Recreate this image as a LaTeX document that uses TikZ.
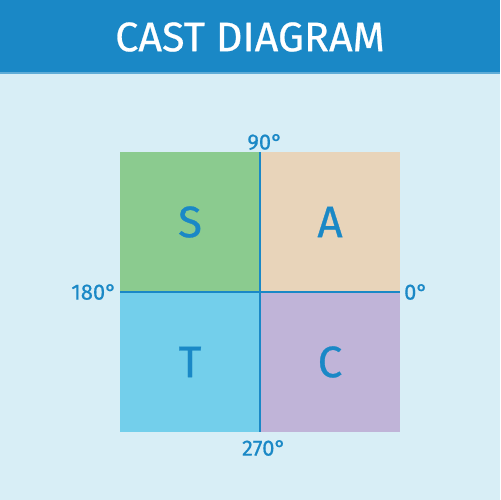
\documentclass[tikz,border=0pt]{standalone}
\usepackage{fontspec}
\setmainfont{Fira Sans}[FakeBold=0.6]
\definecolor{bgc}{HTML}{D8EEF6}
\definecolor{hdr}{HTML}{1A88C6}
\definecolor{txt}{HTML}{1A88C6}
\definecolor{qs}{HTML}{8BCB8F}
\definecolor{qa}{HTML}{E8D4BA}
\definecolor{qt}{HTML}{73CFEB}
\definecolor{qc}{HTML}{C0B4D8}
\tikzset{
  quad/.style={draw=none, minimum width=2.8cm, minimum height=2.8cm, inner sep=0pt,
    text=txt, font=\fontsize{25}{25}\selectfont},
  deg/.style={text=txt, font=\fontsize{12.5}{12.5}\selectfont, inner sep=0pt},
  axis/.style={draw=hdr, line width=1.3pt}
}
\begin{document}
\begin{tikzpicture}[x=0.02cm, y=-0.02cm]
\fill[bgc] (0,0) rectangle (500,500);
\useasboundingbox (0,0) rectangle (500,500);
\fill[hdr] (0,0) rectangle (500,72);
\fill[hdr!70!white] (0,72) rectangle (500,74);
\node[text=white, font=\fontsize{23.5}{23.5}\selectfont] (title) at (250,37) {CAST DIAGRAM};
\node[quad, fill=qs] (S) at (190,222) {S};
\node[quad, fill=qa] (A) at (330,222) {A};
\node[quad, fill=qt] (T) at (190,362) {T};
\node[quad, fill=qc] (C) at (330,362) {C};
\coordinate (top) at (260,152);
\coordinate (bot) at (260,432);
\coordinate (lft) at (120,292);
\coordinate (rgt) at (400,292);
\draw[axis] (top) -- (bot);
\draw[axis] (lft) -- (rgt);
\node[deg] (d90) at (265,142) {90°};
\node[deg] (d180) at (94,292) {180°};
\node[deg] (d0) at (416,292) {0°};
\node[deg] (d270) at (264,448) {270°};
\end{tikzpicture}
\end{document}
